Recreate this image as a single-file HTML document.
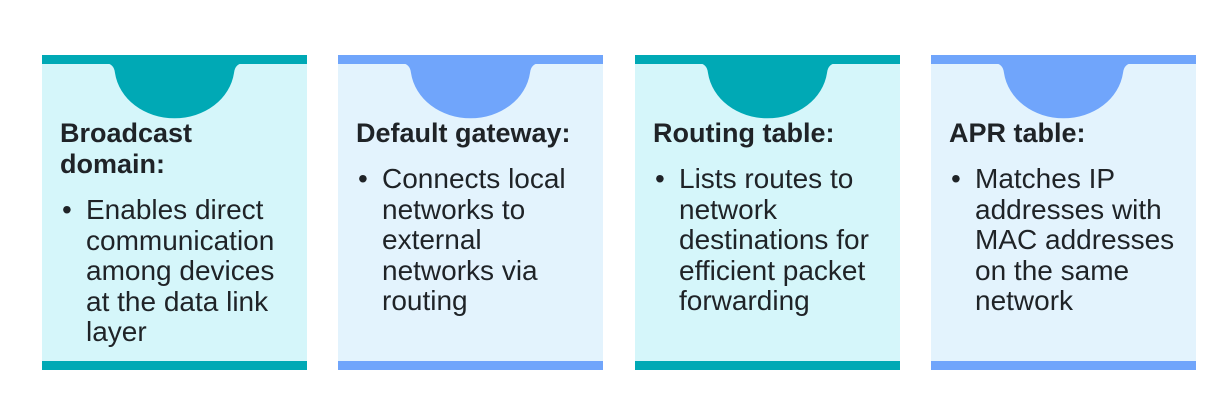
<!DOCTYPE html>
<html><head><style>
body{margin:0;width:1228px;height:411px;background:#fff;position:relative;overflow:hidden;font-family:"Liberation Sans",sans-serif;color:#1f2327}
.card{position:absolute;top:55px;width:265px;height:315px}
.card .top{position:absolute;left:0;top:0;width:100%;height:9px}
.card .bot{position:absolute;left:0;bottom:0;width:100%;height:9px}
.card svg{position:absolute;left:0;top:8px}
.t{position:absolute;left:18px;top:63px;font-weight:bold;font-size:27px;line-height:31px;width:260px;white-space:nowrap}
.b{position:absolute;left:44px;font-size:28px;line-height:30.5px;width:230px;white-space:nowrap}
.b:before{content:"•";position:absolute;left:-24px}
.c1{background:#d5f6fa}.c1 .top,.c1 .bot{background:#00a9b5}
.c2{background:#e3f3fd}.c2 .top,.c2 .bot{background:#70a5fb}
</style></head><body>
<div class="card c1" style="left:42px"><div class="top"></div><div class="bot"></div>
<svg width="265" height="60"><path d="M62 0 Q72 0 73 10 A60 52 0 0 0 192 10 Q193 0 203 0Z" fill="#00a9b5"/></svg>
<div class="t">Broadcast<br>domain:</div><div class="b" style="top:140px">Enables direct<br>communication<br>among devices<br>at the data link<br>layer</div></div>
<div class="card c2" style="left:338px"><div class="top"></div><div class="bot"></div>
<svg width="265" height="60"><path d="M62 0 Q72 0 73 10 A60 52 0 0 0 192 10 Q193 0 203 0Z" fill="#70a5fb"/></svg>
<div class="t">Default gateway:</div><div class="b" style="top:109px">Connects local<br>networks to<br>external<br>networks via<br>routing</div></div>
<div class="card c1" style="left:635px"><div class="top"></div><div class="bot"></div>
<svg width="265" height="60"><path d="M62 0 Q72 0 73 10 A60 52 0 0 0 192 10 Q193 0 203 0Z" fill="#00a9b5"/></svg>
<div class="t">Routing table:</div><div class="b" style="top:109px">Lists routes to<br>network<br>destinations for<br>efficient packet<br>forwarding</div></div>
<div class="card c2" style="left:931px"><div class="top"></div><div class="bot"></div>
<svg width="265" height="60"><path d="M62 0 Q72 0 73 10 A60 52 0 0 0 192 10 Q193 0 203 0Z" fill="#70a5fb"/></svg>
<div class="t">APR table:</div><div class="b" style="top:109px">Matches IP<br>addresses with<br>MAC addresses<br>on the same<br>network</div></div>
</body></html>
